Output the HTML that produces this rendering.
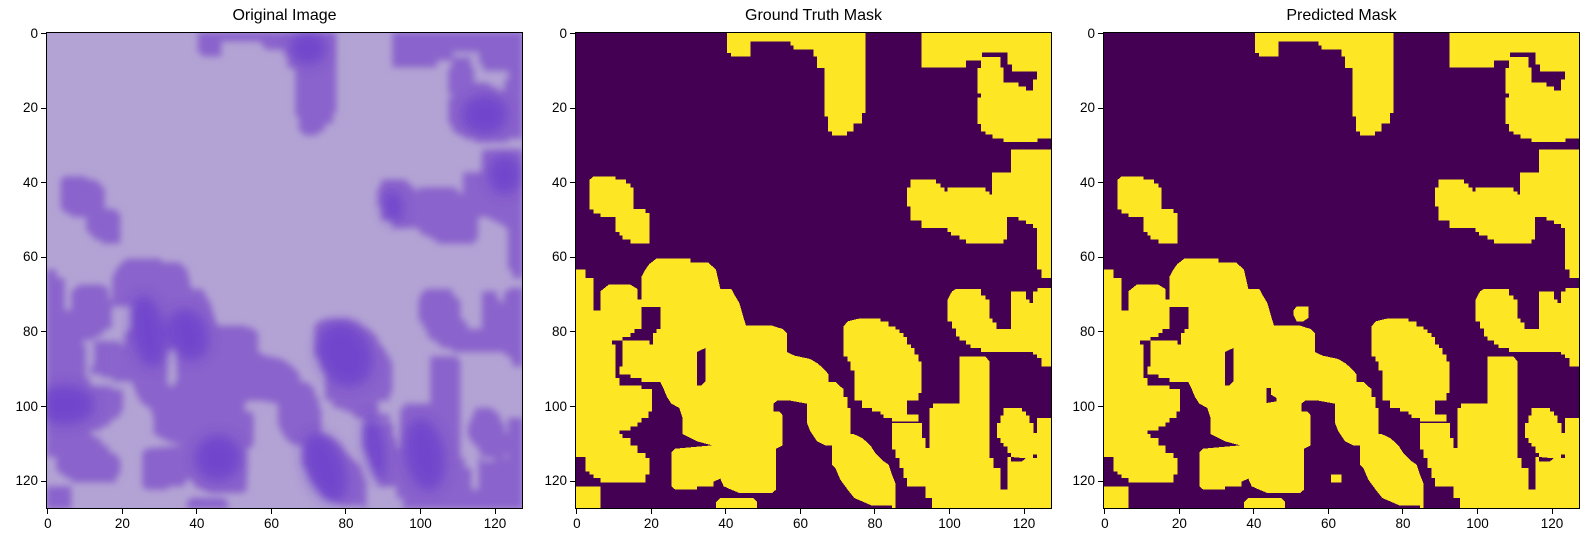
<!DOCTYPE html>
<html><head><meta charset="utf-8">
<style>
body{margin:0;background:#fff;width:1590px;height:543px;overflow:hidden;position:relative;font-family:"Liberation Sans","DejaVu Sans",sans-serif;}
.title{position:absolute;top:7px;font-size:16px;color:#000;text-align:center;width:477px;}
.panel{position:absolute;top:32px;width:477px;height:477px;}
svg.img{position:absolute;left:0;top:0;}
.frame{position:absolute;left:0;top:0;width:475px;height:475px;border:1px solid #000;}
.tk{position:absolute;background:#000;}
.tl{position:absolute;font-size:13.5px;color:#000;white-space:nowrap;}
</style></head>
<body>
<div class="title" style="left:46px">Original Image</div>
<div class="title" style="left:575px">Ground Truth Mask</div>
<div class="title" style="left:1103px">Predicted Mask</div>

<div class="panel" id="p1" style="left:46px"></div>
<div class="panel" id="p2" style="left:575px"></div>
<div class="panel" id="p3" style="left:1103px"></div>

<script>
const tickValues = [0,20,40,60,80,100,120];
const pixelCount = 128;

const shapes = [
"500,22 915,22 915,265 905,265 905,297 880,297 880,320 860,320 860,332 815,332 815,320 803,320 803,275 792,275 792,130 770,130 770,95 760,95 760,75 700,75 700,62 690,62 690,50 570,50 570,95 512,95 512,85 500,85",
"1083,22 1475,22 1475,342 1432,342 1432,352 1330,352 1330,342 1297,342 1297,330 1275,330 1275,320 1262,320 1262,298 1251,298 1251,218 1262,218 1262,207 1251,207 1251,130 1262,130 1262,107 1217,107 1217,128 1083,128",
"1352,375 1475,375 1475,760 1443,760 1443,735 1430,735 1430,610 1418,610 1418,598 1397,598 1397,587 1375,587 1375,577 1340,577 1340,645 1330,645 1330,657 1217,657 1217,645 1197,645 1197,633 1172,633 1172,622 1162,622 1162,610 1083,610 1083,587 1050,587 1050,545 1040,545 1040,488 1050,488 1050,465 1127,465 1127,477 1140,477 1140,488 1152,488 1152,500 1162,500 1162,488 1275,488 1275,500 1287,500 1287,510 1295,510 1295,443 1352,443",
"88,465 100,455 165,455 165,465 197,465 197,477 210,477 210,488 220,488 220,553 255,553 255,565 267,565 267,657 210,657 210,645 187,645 187,633 177,633 177,622 165,622 165,577 120,577 120,567 100,567 100,555 88,555",
"1162,825 1175,800 1187,793 1262,793 1262,812 1275,812 1275,825 1287,825 1287,882 1297,882 1297,893 1308,893 1308,913 1352,913 1352,800 1397,800 1397,825 1408,825 1408,835 1418,835 1418,800 1432,800 1432,790 1475,790 1475,1025 1443,1025 1443,1000 1430,1000 1430,990 1418,990 1418,982 1262,982 1262,970 1230,970 1230,960 1217,960 1217,947 1197,947 1197,935 1187,935 1187,912 1175,912 1175,890 1162,890",
"850,905 862,890 895,882 960,882 960,890 985,890 985,905 1005,905 1005,915 1018,915 1018,925 1030,925 1030,937 1040,937 1040,960 1052,960 1052,970 1062,970 1062,990 1075,990 1075,1010 1083,1010 1083,1105 1075,1105 1075,1128 1040,1128 1040,1170 1075,1170 1075,1190 995,1190 995,1180 970,1180 970,1170 960,1170 960,1160 935,1160 935,1150 905,1150 905,1128 882,1128 882,1037 870,1037 870,1010 862,1010 862,995 850,995",
"995,1195 1085,1195 1085,1240 1095,1240 1095,1270 1107,1270 1107,1150 1118,1150 1118,1137 1197,1137 1197,995 1275,995 1287,1010 1287,1300 1300,1300 1300,1330 1320,1330 1320,1395 1342,1395 1342,1297 1352,1297 1352,1310 1385,1310 1397,1300 1430,1300 1430,1180 1475,1180 1475,1453 1115,1453 1115,1420 1095,1420 1095,1385 1040,1385 1040,1360 1030,1360 1030,1330 1018,1330 1018,1300 1005,1300 1005,1275 995,1275",
"1330,1150 1385,1150 1385,1160 1397,1160 1397,1172 1408,1172 1408,1195 1420,1195 1420,1225 1430,1225 1430,1290 1418,1290 1418,1300 1385,1300 1352,1297 1352,1285 1342,1285 1342,1265 1330,1265 1330,1255 1320,1255 1320,1240 1310,1240 1310,1195 1320,1195 1320,1172 1330,1172",
"45,735 75,735 75,760 100,760 100,857 120,857 120,800 145,780 210,780 232,793 232,825 243,825 243,1083 275,1083 275,1160 265,1160 265,1180 243,1180 243,1193 232,1193 232,1205 210,1205 210,1218 177,1218 177,1228 187,1228 187,1240 210,1240 210,1262 232,1262 232,1285 255,1285 255,1300 267,1300 267,1350 255,1350 255,1373 120,1373 120,1360 100,1360 100,1350 88,1350 88,1340 75,1340 75,1297 45,1297",
"243,757 255,735 267,718 288,702 390,702 390,713 443,713 467,735 480,793 513,793 525,815 537,835 547,870 557,903 635,903 667,913 680,925 680,982 703,993 750,1003 770,1015 782,1025 795,1037 805,1050 805,1072 827,1072 837,1083 850,1093 850,1117 862,1117 862,1150 870,1150 870,1228 880,1228 905,1240 917,1250 930,1262 945,1285 970,1310 985,1320 995,1350 1005,1375 1005,1453 995,1453 995,1443 935,1443 905,1430 882,1420 862,1395 840,1365 825,1330 815,1320 815,1262 795,1262 770,1250 750,1220 740,1195 740,1137 690,1128 650,1128 640,1137 640,1160 657,1160 667,1172 667,1262 647,1272 647,1395 635,1405 537,1405 513,1395 490,1385 480,1362 457,1372 455,1262 410,1250 390,1240 367,1228 367,1180 357,1150 333,1137 320,1117 310,1093 300,1072 243,1072",
"333,1283 345,1272 455,1262 460,1385 410,1385 410,1395 345,1395 333,1385",
"467,1432 480,1420 578,1420 590,1432 590,1453 467,1453",
"45,1385 120,1385 120,1453 45,1453"
];
const holes = [
"1265,83 1342,83 1342,120 1355,120 1355,140 1430,140 1430,165 1418,165 1418,197 1397,197 1397,185 1375,185 1375,173 1330,173 1330,128 1320,128 1320,97 1265,97",
"155,948 187,948 187,1025 177,1025 177,1050 210,1050 210,1060 243,1060 243,1072 300,1072 300,1093 243,1093 243,1083 177,1083 177,1060 165,1060 165,960 155,960",
"243,847 300,847 300,913 288,913 288,925 278,925 278,960 267,960 267,948 187,948 187,937 210,937 210,925 222,925 222,913 243,913",
"410,982 435,970 435,1070 422,1083 410,1083"
];
const predExtra = ["615,858 625,845 660,845 660,880 645,890 625,890 615,870", "728,1350 760,1350 760,1373 728,1373"];
const predHoles = ["535,1090 548,1090 548,1110 565,1120 565,1130 535,1135"];
// darker nucleus cores in the original image: [cx, cy, rx, ry, angle]
const darkCores = [[830,70,55,50,0],[1085,545,30,50,-10],[1360,270,70,60,0],[1420,450,50,60,0],[1030,1270,30,100,-8],[100,1140,90,60,0],[350,920,50,110,-10],[470,930,60,80,-20],[940,990,80,100,-25],[880,1330,60,110,-20],[1180,1290,60,110,-10],[560,1300,70,70,0]];

const NS="http://www.w3.org/2000/svg";
function mkSvg(panel, bg){
  const s=document.createElementNS(NS,"svg");
  s.setAttribute("class","img");
  s.setAttribute("width","477");s.setAttribute("height","477");
  s.setAttribute("viewBox","44 22 1431 1431");
  s.setAttribute("preserveAspectRatio","none");
  
  
  const r=document.createElementNS(NS,"rect");
  r.setAttribute("x","44");r.setAttribute("y","22");r.setAttribute("width","1431");r.setAttribute("height","1431");r.setAttribute("fill",bg);
  s.appendChild(r);
  panel.appendChild(s);
  return s;
}
function poly(s, pts, fill, name){
  const p=document.createElementNS(NS,"polygon");
  p.setAttribute("points",pts);p.setAttribute("fill",fill);
  
  
  s.appendChild(p);return p;
}
// Original image
(function(){
  const s=mkSvg(document.getElementById("p1"),"#b3a3d4");
  const defs=document.createElementNS(NS,"defs");
  defs.innerHTML='<filter id="bl" x="-10%" y="-10%" width="120%" height="120%"><feGaussianBlur stdDeviation="10"/></filter><filter id="bl2" x="-30%" y="-30%" width="160%" height="160%"><feGaussianBlur stdDeviation="18"/></filter>';
  s.appendChild(defs);
  const g=document.createElementNS(NS,"g");g.setAttribute("filter","url(#bl)");s.appendChild(g);
  shapes.forEach(p=>poly(g,p,"#8a64cc","nucleus"));
  holes.forEach(p=>poly(g,p,"#b3a3d4","background-gap"));
  const g2=document.createElementNS(NS,"g");g2.setAttribute("filter","url(#bl2)");s.appendChild(g2);
  darkCores.forEach(c=>{
    const e=document.createElementNS(NS,"ellipse");
    e.setAttribute("cx",c[0]);e.setAttribute("cy",c[1]);e.setAttribute("rx",c[2]);e.setAttribute("ry",c[3]);
    e.setAttribute("transform",`rotate(${c[4]} ${c[0]} ${c[1]})`);
    e.setAttribute("fill","#5f2fcc");e.setAttribute("opacity","0.55");
    
    
    g2.appendChild(e);
  });
})();
// GT
(function(){
  const s=mkSvg(document.getElementById("p2"),"#440154");
  s.setAttribute("shape-rendering","crispEdges");
  shapes.forEach(p=>poly(s,p,"#fde725","mask-region"));
  holes.forEach(p=>poly(s,p,"#440154","mask-hole"));
})();
// Pred
(function(){
  const s=mkSvg(document.getElementById("p3"),"#440154");
  s.setAttribute("shape-rendering","crispEdges");
  shapes.forEach(p=>poly(s,p,"#fde725","pred-region"));
  holes.forEach(p=>poly(s,p,"#440154","pred-hole"));
  predExtra.forEach(p=>poly(s,p,"#fde725","pred-region"));
  predHoles.forEach(p=>poly(s,p,"#440154","pred-hole"));
})();
// frames & ticks
const unit=477/pixelCount;
["p1","p2","p3"].forEach(id=>{
  const pn=document.getElementById(id);
  const f=document.createElement("div");f.className="frame";
  
  
  pn.appendChild(f);
  tickValues.forEach(v=>{
    const pos=(v+0.5)*unit;
    const tx=document.createElement("div");tx.className="tk";
    tx.style.cssText=`left:${pos-0.5}px;top:477px;width:1px;height:5px`;
    
    
    pn.appendChild(tx);
    const lx=document.createElement("div");lx.className="tl";lx.textContent=v;
    lx.style.cssText=`left:${pos-20}px;width:40px;text-align:center;top:484px`;
    
    
    pn.appendChild(lx);
    const ty=document.createElement("div");ty.className="tk";
    ty.style.cssText=`left:-5px;top:${pos-0.5}px;width:5px;height:1px`;
    
    
    pn.appendChild(ty);
    const ly=document.createElement("div");ly.className="tl";ly.textContent=v;
    ly.style.cssText=`left:-50px;width:42px;text-align:right;top:${pos-8}px`;
    
    
    pn.appendChild(ly);
  });
});
</script>
</body></html>
